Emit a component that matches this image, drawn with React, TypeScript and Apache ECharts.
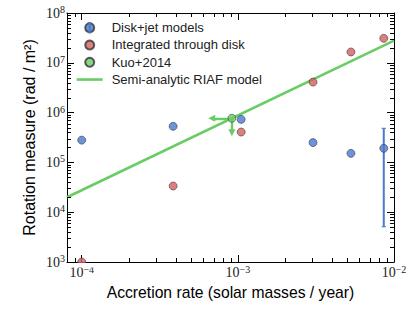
import React, { useEffect, useRef } from 'react';
import * as echarts from 'echarts';

const X_MIN = 8.05e-5;
const X_MAX = 1e-2;
const Y_MIN = 1e3;
const Y_MAX = 1e8;

const diskJet = [
  [1.0e-4, 2.8e5],
  [3.85e-4, 5.3e5],
  [1.05e-3, 7.3e5],
  [3.03e-3, 2.5e5],
  [5.3e-3, 1.52e5],
  [8.6e-3, 1.92e5],
];
const integrated = [
  [1.0e-4, 1.0e3],
  [3.85e-4, 3.36e4],
  [1.05e-3, 4.07e5],
  [3.03e-3, 4.1e6],
  [5.3e-3, 1.65e7],
  [8.6e-3, 3.1e7],
];
const kuo = [[9.16e-4, 7.7e5]];
const kuoLimitEnds = [
  [6.8e-4, 7.7e5],
  [9.16e-4, 3.95e5],
];
const diskJetErr = [[8.6e-3, 5.1e3, 4.84e5]];
const riaf = [
  [8.05e-5, 2.0e4],
  [1e-2, 2.78e7],
];
const xMinorTicks = [
  9e-5, 2e-4, 3e-4, 4e-4, 5e-4, 6e-4, 7e-4, 8e-4, 9e-4,
  2e-3, 3e-3, 4e-3, 5e-3, 6e-3, 7e-3, 8e-3, 9e-3,
];
const yMinorTicks = [
  2e3, 3e3, 4e3, 5e3, 6e3, 7e3, 8e3, 9e3,
  2e4, 3e4, 4e4, 5e4, 6e4, 7e4, 8e4, 9e4,
  2e5, 3e5, 4e5, 5e5, 6e5, 7e5, 8e5, 9e5,
  2e6, 3e6, 4e6, 5e6, 6e6, 7e6, 8e6, 9e6,
  2e7, 3e7, 4e7, 5e7, 6e7, 7e7, 8e7, 9e7,
];

const BLUE = '#4878CF';
const RED = '#D65F5F';
const GREEN = '#6ACC65';
const EDGE = '#333333';
const SERIF = '"Liberation Serif", "DejaVu Serif", serif';
const SANS = '"Liberation Sans", Arial, sans-serif';

const powLabel = (v: number) => {
  const e = Math.log10(v);
  const r = Math.round(e);
  if (Math.abs(e - r) > 1e-6) return '';
  const s = r < 0 ? '\u2212' + String(-r) : String(r);
  return '{b|10}{s|' + s + '}';
};

const richLabel = {
  b: { fontFamily: SERIF, fontSize: 14, color: '#222' },
  s: { fontFamily: SERIF, fontSize: 10, color: '#222', padding: [0, 0, 7, 0] },
};

export default function App() {
  const ref = useRef<HTMLDivElement>(null);
  useEffect(() => {
    if (!ref.current) return;
    document.body.style.margin = '0';
    const chart = echarts.init(ref.current, null, { renderer: 'svg' });
    const tick = { inside: true, length: 7, lineStyle: { color: '#000', width: 1 } };
    const axLine = { show: true, lineStyle: { color: '#000', width: 1 } };
    const baseX = { type: 'log', min: X_MIN, max: X_MAX, logBase: 10, splitLine: { show: false }, axisLine: axLine, axisTick: tick };
    const baseY = { type: 'log', min: Y_MIN, max: Y_MAX, logBase: 10, splitLine: { show: false }, axisLine: axLine, axisTick: tick };
    const marker = (c: string) => ({ color: c, borderColor: EDGE, borderWidth: 0.7 });
    chart.setOption({
      animation: false,
      grid: { left: 67, right: 21, top: 13, bottom: 50 },
      legend: {
        left: 71.7,
        top: 14,
        orient: 'vertical',
        itemWidth: 26,
        itemHeight: 9,
        itemGap: 0,
        padding: 5,
        textStyle: { fontFamily: SANS, fontSize: 13, color: '#222', lineHeight: 17.3, padding: [0, 0, 0, 4] },
        data: [
          { name: 'Disk+jet models', icon: 'circle' },
          { name: 'Integrated through disk', icon: 'circle' },
          { name: 'Kuo+2014', icon: 'circle' },
          { name: 'Semi-analytic RIAF model', icon: 'path://M0,0H26V2.6H0Z', itemStyle: { color: GREEN, borderWidth: 0 } },
        ],
      },
      xAxis: [
        {
          ...baseX,
          position: 'bottom',
          name: 'Accretion rate (solar masses / year)',
          nameLocation: 'middle',
          nameGap: 22,
          nameMoveOverlap: false,
          nameTextStyle: { fontFamily: SANS, fontSize: 15.7, color: '#000' },
          axisLabel: { formatter: powLabel, rich: richLabel, margin: 2, showMinLabel: true, showMaxLabel: true },
        },
        { ...baseX, position: 'top', axisLabel: { show: false } },
      ],
      yAxis: [
        {
          ...baseY,
          position: 'left',
          name: 'Rotation measure (rad / m\u00B2)',
          nameLocation: 'middle',
          nameGap: 30,
          nameMoveOverlap: false,
          nameTextStyle: { fontFamily: SANS, fontSize: 16, color: '#000' },
          axisLabel: { formatter: powLabel, rich: richLabel, margin: 2, showMinLabel: true, showMaxLabel: true },
        },
        { ...baseY, position: 'right', axisLabel: { show: false } },
      ],
      series: [
        {
          name: 'Semi-analytic RIAF model',
          type: 'line',
          data: riaf,
          showSymbol: false,
          symbol: 'none',
          lineStyle: { color: GREEN, width: 2.6 },
          itemStyle: { color: GREEN },
          z: 1,
        },
        {
          type: 'custom',
          silent: true,
          data: xMinorTicks.map((v) => [v, Y_MIN]),
          renderItem: (params: any, api: any) => {
            const cs = params.coordSys;
            const x = Math.round(api.coord([api.value(0), Y_MIN])[0]) + 0.5;
            const st = { stroke: '#000', lineWidth: 1 };
            return {
              type: 'group',
              children: [
                { type: 'line', shape: { x1: x, y1: cs.y + cs.height, x2: x, y2: cs.y + cs.height - 4 }, style: st },
                { type: 'line', shape: { x1: x, y1: cs.y, x2: x, y2: cs.y + 4 }, style: st },
              ],
            };
          },
          z: 5,
        },
        {
          type: 'custom',
          silent: true,
          data: yMinorTicks.map((v) => [X_MIN, v]),
          renderItem: (params: any, api: any) => {
            const cs = params.coordSys;
            const y = Math.round(api.coord([X_MIN, api.value(1)])[1]) + 0.5;
            const st = { stroke: '#000', lineWidth: 1 };
            return {
              type: 'group',
              children: [
                { type: 'line', shape: { x1: cs.x, y1: y, x2: cs.x + 4, y2: y }, style: st },
                { type: 'line', shape: { x1: cs.x + cs.width, y1: y, x2: cs.x + cs.width - 4, y2: y }, style: st },
              ],
            };
          },
          z: 5,
        },
        {
          type: 'custom',
          silent: true,
          data: diskJetErr,
          encode: { x: 0, y: [1, 2] },
          renderItem: (params: any, api: any) => {
            const lo = api.coord([api.value(0), api.value(1)]);
            const hi = api.coord([api.value(0), api.value(2)]);
            const st = { stroke: BLUE, lineWidth: 2 };
            return {
              type: 'group',
              children: [
                { type: 'line', shape: { x1: lo[0], y1: lo[1], x2: hi[0], y2: hi[1] }, style: st },
                { type: 'line', shape: { x1: lo[0] - 2.2, y1: lo[1], x2: lo[0] + 2.2, y2: lo[1] }, style: { stroke: BLUE, lineWidth: 1 } },
                { type: 'line', shape: { x1: hi[0] - 2.2, y1: hi[1], x2: hi[0] + 2.2, y2: hi[1] }, style: { stroke: BLUE, lineWidth: 1 } },
              ],
            };
          },
          z: 3,
        },
        {
          type: 'lines',
          coordinateSystem: 'cartesian2d',
          silent: true,
          symbol: ['none', 'triangle'],
          symbolSize: 7,
          lineStyle: { color: GREEN, width: 2.4, opacity: 1 },
          data: kuoLimitEnds.map((e) => ({ coords: [kuo[0], e] })),
          z: 3,
        },
        {
          name: 'Disk+jet models',
          type: 'scatter',
          data: diskJet,
          symbolSize: 8,
          itemStyle: marker(BLUE),
          z: 4,
        },
        {
          name: 'Integrated through disk',
          type: 'scatter',
          data: integrated,
          symbolSize: 8,
          itemStyle: marker(RED),
          z: 4,
        },
        {
          name: 'Kuo+2014',
          type: 'scatter',
          data: kuo,
          symbolSize: 8,
          itemStyle: marker(GREEN),
          z: 4,
        },
      ],
      graphic: [
        {
          type: 'rect',
          shape: { x: 72, y: 263, width: 22, height: 4.5 },
          style: { fill: '#fff' },
          z: 100,
        },
        {
          type: 'line',
          shape: { x1: 89.7, y1: 22, x2: 89.7, y2: 33.5 },
          style: { stroke: BLUE, lineWidth: 2 },
          z: 100,
        },
      ],
    });
    return () => chart.dispose();
  }, []);
  return <div ref={ref} style={{ width: 415, height: 312 }} />;
}
